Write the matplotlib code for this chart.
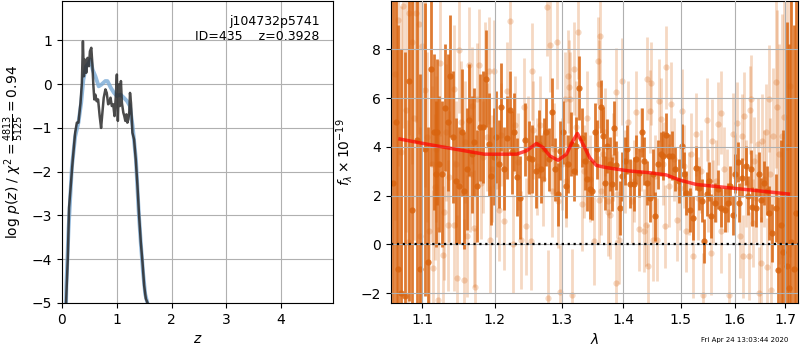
import numpy as np
import matplotlib
matplotlib.use('Agg')
import matplotlib.pyplot as plt
from matplotlib.ticker import NullLocator

# ---- left panel: redshift fit ----
z_chi = [0.060, 0.074, 0.105, 0.129, 0.160, 0.197, 0.240, 0.271, 0.300, 0.338, 0.363,
         0.382, 0.400, 0.419, 0.443, 0.467, 0.492, 0.510, 0.535, 0.553, 0.572, 0.590,
         0.609, 0.633, 0.659, 0.688, 0.714, 0.738, 0.762, 0.793, 0.817, 0.843, 0.867,
         0.886, 0.910, 0.935, 0.959, 0.983, 1.002, 1.020, 1.039, 1.057, 1.076, 1.094,
         1.120, 1.138, 1.157, 1.175, 1.194, 1.212, 1.230, 1.242, 1.260, 1.286, 1.316,
         1.347, 1.378, 1.408, 1.439, 1.470, 1.500, 1.531, 1.563, 1.580]
logp_chi = [-6.0, -5.0, -4.0, -2.82, -2.32, -1.72, -1.11, -0.88, -0.88, -0.43, 0.03,
            0.98, 0.18, 0.56, 0.26, 0.60, 0.41, 0.75, 0.83, 0.49, -0.01, -0.35,
            -0.24, -0.39, -0.35, -0.73, -1.00, -0.65, -0.31, -0.12, -0.20, -0.46, -0.43,
            -0.31, -0.50, -0.46, -0.73, -0.27, 0.22, -0.84, -0.01, -0.50, 0.07, -0.43,
            -0.65, -0.73, -0.84, -0.69, -0.88, -0.80, -0.62, -0.20, -0.43, -1.11, -1.26,
            -1.72, -2.32, -3.01, -3.61, -4.07, -4.60, -4.90, -5.00, -6.0]

z_pz = [0.060, 0.080, 0.120, 0.180, 0.240, 0.300, 0.350, 0.390, 0.440, 0.490, 0.520,
        0.560, 0.610, 0.670, 0.720, 0.790, 0.830, 0.890, 0.950, 1.000, 1.070, 1.130,
        1.190, 1.240, 1.290, 1.350, 1.400, 1.440, 1.480, 1.520, 1.560, 1.580]
logp_pz = [-6.0, -4.6, -3.3, -1.90, -1.20, -0.88, -0.43, 0.10, 0.41, 0.49, 0.56,
           0.33, 0.18, -0.05, -0.01, 0.07, 0.07, -0.08, -0.20, -0.27, -0.24, -0.31,
           -0.39, -0.50, -0.96, -1.72, -2.90, -3.65, -4.30, -4.80, -5.00, -6.0]

# ---- right panel: spectrum ----
dark_lam = [1.0615, 1.0655, 1.0690, 1.0723, 1.0780, 1.0825, 1.0865, 1.0930, 1.0970, 1.1036,
            1.1075, 1.1115, 1.1155, 1.1178, 1.1195, 1.1220, 1.1260, 1.1300, 1.1342, 1.1370,
            1.1410, 1.1460, 1.1490, 1.1530, 1.1560, 1.1600, 1.1630, 1.1680, 1.1710, 1.1740,
            1.1790, 1.1830, 1.1880, 1.1910, 1.1950, 1.1985, 1.2020, 1.2060, 1.2096, 1.2140,
            1.2180, 1.2220, 1.2245, 1.2285, 1.2325, 1.2375, 1.2435, 1.2500, 1.2550, 1.2605,
            1.2650, 1.2690, 1.2728, 1.2767, 1.2807, 1.2845, 1.2895, 1.2947, 1.2970, 1.3020,
            1.3076, 1.3100, 1.3155, 1.3195, 1.3233, 1.3270, 1.3316, 1.3370, 1.3410, 1.3447,
            1.3485, 1.3530, 1.3573, 1.3630, 1.3664, 1.3700, 1.3730, 1.3770, 1.3810, 1.3840,
            1.3885, 1.3940, 1.3980, 1.4020, 1.4070, 1.4120, 1.4180, 1.4220, 1.4265, 1.4315,
            1.4360, 1.4405, 1.4462, 1.4500, 1.4537, 1.4595, 1.4640, 1.4685, 1.4740, 1.4784,
            1.4844, 1.4900, 1.4960, 1.5030, 1.5065, 1.5100, 1.5165, 1.5225, 1.5280, 1.5340,
            1.5380, 1.5430, 1.5480, 1.5515, 1.5550, 1.5620, 1.5680, 1.5740, 1.5810, 1.5870,
            1.5920, 1.5970, 1.6010, 1.6060, 1.6090, 1.6150, 1.6220, 1.6265, 1.6310, 1.6340,
            1.6410, 1.6480, 1.6520, 1.6580, 1.6630, 1.6680, 1.6740, 1.6810, 1.6860, 1.6910,
            1.6960, 1.7030, 1.7086, 1.7130, 1.7180, 1.7220]
dark_flux = [2.5, 5.0, -1.0, -2.0, -2.1, 6.7, 1.4, 4.3, -1.0, 3.9,
             -0.7, 7.2, 4.6, 2.9, 4.6, 3.3, 2.9, 5.6, 5.0, 6.9,
             4.4, 2.6, 2.4, 4.6, 2.2, 3.1, 5.1, 3.7, 4.2, 2.4,
             4.8, 4.8, 6.8, 4.1, 2.8, 3.6, 4.4, 3.3, 5.65, 3.1,
             4.38, 5.51, 3.77, 4.6, 2.76, 1.91, 4.3, 3.56, 3.49, 3.0,
             4.11, 3.08, 3.9, 4.62, 3.49, 5.44, 3.08, 2.05, 3.84, 4.6,
             2.39, 3.29, 4.11, 3.0, 4.04, 6.42, 4.38, 3.42, 2.67, 2.26,
             2.21, 4.59, 3.9, 5.65, 4.45, 2.53, 4.04, 3.3, 2.49, 4.77,
             3.25, 1.5, 2.8, 3.42, 3.9, 2.49, 2.49, 3.49, 2.94, 4.59,
             3.42, 2.53, 1.91, 2.9, 1.15, 3.29, 3.7, 3.63, 4.48, 3.63,
             3.63, 3.08, 2.6, 4.04, 2.9, 2.12, 1.43, 1.08, 3.15, 2.32,
             1.8, 0.15, 2.05, 2.6, 1.15, 1.7, 2.26, 1.5, 1.43, 1.7,
             2.4, 1.2, 2.9, 3.38, 1.7, 2.73, 3.22, 2.0, 3.08, 1.54,
             1.5, 2.87, 1.84, 2.53, 2.2, 1.3, 0.47, 1.5, -1.04, 0.8,
             -0.3, -0.88, -1.77, 0.12, -1.0, 1.3]
dark_err = [10, 10, 10, 10, 10, 9, 10, 9, 8, 6,
            5.5, 4.0, 3.2, 3.0, 3.0, 2.8, 3.0, 2.6, 2.8, 2.5,
            2.7, 2.6, 2.4, 2.6, 2.4, 2.5, 2.3, 2.4, 2.2, 2.3,
            2.2, 2.3, 2.0, 2.1, 2.0, 2.0, 1.9, 1.8, 1.8, 1.7,
            1.7, 1.6, 1.7, 1.6, 1.6, 1.7, 1.5, 1.5, 1.4, 1.5,
            1.4, 1.4, 1.3, 1.4, 1.3, 1.4, 1.3, 1.3, 1.2, 1.3,
            1.3, 1.2, 1.3, 1.2, 1.2, 1.3, 1.2, 1.2, 1.3, 1.2,
            1.2, 1.2, 1.2, 1.1, 1.2, 1.1, 1.1, 1.1, 1.1, 1.1,
            1.0, 1.1, 1.0, 1.0, 1.0, 1.0, 1.1, 1.0, 1.0, 1.0,
            1.0, 0.9, 1.0, 1.0, 1.0, 1.0, 0.9, 1.0, 0.9, 0.9,
            1.0, 0.9, 0.9, 0.9, 0.9, 0.9, 0.9, 0.9, 0.9, 0.9,
            0.9, 0.9, 0.9, 0.8, 0.9, 0.8, 0.8, 0.8, 0.9, 0.8,
            0.8, 0.8, 0.8, 0.8, 0.8, 0.8, 0.8, 0.8, 0.8, 0.8,
            0.8, 0.9, 0.9, 0.9, 1.0, 1.1, 1.2, 1.4, 3.0, 3.5,
            5.0, 10, 10, 10, 10, 10]

light_lam = [1.0640, 1.0690, 1.0717, 1.0752, 1.0790, 1.0818, 1.0830, 1.0860, 1.0885, 1.0917,
             1.0953, 1.0974, 1.0996, 1.1036, 1.1060, 1.1084, 1.1128, 1.1137, 1.1167, 1.1180,
             1.1212, 1.1234, 1.1280, 1.1295, 1.1320, 1.1348, 1.1362, 1.1420, 1.1428, 1.1450,
             1.1474, 1.1496, 1.1529, 1.1565, 1.1580, 1.1601, 1.1633, 1.1650, 1.1670, 1.1702,
             1.1712, 1.1740, 1.1772, 1.1805, 1.1830, 1.1856, 1.1890, 1.1913, 1.1937, 1.1960,
             1.1984, 1.2022, 1.2065, 1.2096, 1.2130, 1.2170, 1.2220, 1.2266, 1.2300, 1.2340,
             1.2390, 1.2425, 1.2455, 1.2480, 1.2525, 1.2540, 1.2555, 1.2620, 1.2670, 1.2710,
             1.2780, 1.2795, 1.2820, 1.2845, 1.2880, 1.2935, 1.2950, 1.2970, 1.3010, 1.3050,
             1.3065, 1.3100, 1.3115, 1.3128, 1.3165, 1.3190, 1.3220, 1.3262, 1.3316, 1.3360,
             1.3400, 1.3450, 1.3510, 1.3575, 1.3590, 1.3600, 1.3609, 1.3636, 1.3660, 1.3700,
             1.3745, 1.3750, 1.3773, 1.3820, 1.3873, 1.3880, 1.3890, 1.3930, 1.3970, 1.4020,
             1.4080, 1.4140, 1.4180, 1.4222, 1.4265, 1.4300, 1.4360, 1.4390, 1.4405, 1.4415,
             1.4461, 1.4478, 1.4506, 1.4550, 1.4580, 1.4611, 1.4650, 1.4680, 1.4720, 1.4740,
             1.4780, 1.4830, 1.4880, 1.4940, 1.4980, 1.5017, 1.5050, 1.5095, 1.5140, 1.5180,
             1.5220, 1.5280, 1.5320, 1.5360, 1.5400, 1.5470, 1.5500, 1.5550, 1.5580, 1.5590,
             1.5640, 1.5680, 1.5740, 1.5750, 1.5800, 1.5850, 1.5900, 1.5960, 1.6000, 1.6040,
             1.6110, 1.6150, 1.6170, 1.6190, 1.6220, 1.6270, 1.6290, 1.6320, 1.6350, 1.6385,
             1.6420, 1.6450, 1.6480, 1.6510, 1.6540, 1.6570, 1.6610, 1.6640, 1.6680, 1.6700,
             1.6715, 1.6760, 1.6810, 1.6840, 1.6880, 1.6940, 1.6980, 1.7030, 1.7100]
light_flux = [7.0, 9.2, 3.77, 9.77, 5.5, 0.12, 9.47, 8.3, 5.2, 9.5,
              9.03, 0.33, 8.12, 6.34, 4.4, 0.54, 3.29, -0.98, 2.35, 3.9,
              -2.28, 7.44, -0.42, 1.33, 4.6, 0.78, 2.78, 0.78, 6.38, 3.3,
              -1.39, 7.99, 5.0, -1.46, 4.2, 0.33, 7.34, 2.9, 5.69, 0.67,
              -1.73, 5.97, 7.34, 2.53, 3.6, 6.93, 4.4, 7.13, 0.19, 3.1,
              7.09, 2.39, 1.43, 4.5, 0.95, 6.28, 9.17, 0.01, 4.9, 3.4,
              0.19, 5.65, 0.74, 4.1, 0.15, 7.09, 4.69, 3.2, 4.9, 2.67,
              9.74, -2.21, 8.16, 2.21, 3.9, 8.28, 1.77, -1.94, 3.3, 5.97,
              2.6, 6.89, 6.47, 5.97, -2.07, 7.2, 4.8, 8.69, 1.64, 3.0,
              5.2, 2.7, 0.15, 7.52, 1.84, 6.59, 8.54, 2.19, 3.7, 4.6,
              1.8, 1.33, 1.22, 3.6, 6.24, -1.6, 2.05, 0.19, 6.68, 3.0,
              5.0, 1.77, 2.6, 5.41, 0.63, 3.9, 0.56, 0.81, 6.79, -0.87,
              5.46, 6.61, 0.19, 2.8, 0.19, 5.9, 5.14, 3.3, 0.74, 7.27,
              2.4, 5.76, 3.5, 1.02, 2.3, 5.48, 3.2, 0.56, 2.1, 3.7,
              -0.49, 4.52, 1.9, 3.0, -2.07, 5.11, 2.2, -0.36, 4.25, 1.77,
              2.6, 4.94, 0.54, 5.39, 3.1, 2.2, -2.07, 4.52, 2.8, 4.96,
              0.33, 4.45, -0.49, 5.28, 2.5, -0.49, 5.51, 5.97, 0.88, 3.42,
              1.9, 4.11, -2.01, -0.77, 4.25, 2.7, 4.59, -0.91, 5.97, 2.87,
              -1.87, 4.45, 6.65, 5.62, 3.7, 4.45, 5.21, 4.0, 6.5]
light_err = [6, 6, 6, 5, 5, 5, 5, 5, 5, 4.5,
             4.5, 4.5, 4.0, 4.0, 3.5, 3.5, 3.2, 3.2, 3.0, 3.0,
             3.0, 3.0, 2.8, 2.8, 2.8, 2.7, 2.7, 2.7, 2.6, 2.6,
             2.6, 2.6, 2.5, 2.5, 2.5, 2.5, 2.4, 2.4, 2.4, 2.4,
             2.4, 2.3, 2.3, 2.3, 2.3, 2.2, 2.2, 2.2, 2.2, 2.2,
             2.1, 2.1, 2.1, 2.1, 2.0, 2.0, 2.0, 2.0, 2.0, 2.0,
             2.0, 2.0, 2.0, 2.0, 2.0, 2.0, 2.0, 2.0, 2.0, 1.9,
             2.0, 2.0, 1.9, 1.9, 1.9, 1.9, 1.9, 1.9, 1.9, 1.9,
             1.9, 1.9, 1.9, 1.9, 1.9, 1.9, 1.9, 1.9, 1.9, 1.9,
             1.9, 1.8, 1.8, 1.8, 1.8, 1.8, 1.8, 1.8, 1.8, 1.8,
             1.8, 1.8, 1.8, 1.8, 1.8, 1.8, 1.8, 1.8, 1.8, 1.7,
             1.7, 1.7, 1.7, 1.7, 1.7, 1.7, 1.7, 1.7, 1.7, 1.7,
             1.7, 1.7, 1.7, 1.7, 1.7, 1.7, 1.7, 1.7, 1.7, 1.7,
             1.7, 1.7, 1.7, 1.7, 1.7, 1.7, 1.7, 1.7, 1.7, 1.7,
             1.7, 1.7, 1.7, 1.7, 1.7, 1.7, 1.7, 1.7, 1.7, 1.7,
             1.7, 1.7, 1.7, 1.7, 1.7, 1.7, 1.7, 1.7, 1.7, 1.7,
             1.7, 1.7, 1.7, 1.8, 1.8, 1.8, 1.8, 1.8, 1.8, 1.8,
             1.8, 1.9, 1.9, 1.9, 1.9, 2.0, 2.0, 2.0, 2.2, 2.3,
             2.5, 2.8, 3.5, 4.0, 4.5, 5.0, 6.0, 6.0, 7.0]

model_lam = [1.071, 1.101, 1.132, 1.163, 1.185, 1.2317, 1.2466, 1.2615, 1.2716, 1.2818,
             1.2946, 1.3077, 1.318, 1.325, 1.3339, 1.3446, 1.3555, 1.3718, 1.4106, 1.4449,
             1.474, 1.4978, 1.528, 1.5587, 1.6223, 1.7065]
model_flux = [4.32, 4.14, 3.97, 3.81, 3.70, 3.70, 3.84, 4.14, 3.97, 3.63,
              3.45, 3.70, 4.25, 4.55, 4.11, 3.56, 3.24, 3.15, 3.01, 2.94,
              2.85, 2.64, 2.46, 2.39, 2.25, 2.07]

lam_ticks = [1.1, 1.2, 1.3, 1.4, 1.5, 1.6, 1.7]

orange = '#d9640f'

fig = plt.figure(figsize=(8, 3.5), dpi=100)

# left: log p(z)
ax1 = fig.add_axes([0.0775, 0.1343, 0.3388, 0.8629])
ax1.plot(z_pz, logp_pz, color='#7aaad6', lw=2.8, alpha=0.8)
ax1.plot(z_chi, logp_chi, color='#2b2b2b', lw=1.8, alpha=0.85)
ax1.set_xlim(0, 4.95)
ax1.set_ylim(-5.0, 1.9)
ax1.set_xticks([0, 1, 2, 3, 4])
ax1.set_yticks([-5, -4, -3, -2, -1, 0, 1])
ax1.grid(True)
ax1.set_xlabel(r'$z$')
ax1.set_ylabel(r'log $p(z)$ / $\chi^2=\frac{4813}{5125}=0.94$')
ax1.text(0.95, 0.955, 'j104732p5741\nID=435    z=0.3928', ha='right', va='top',
         transform=ax1.transAxes, fontsize=9)

# right: spectrum
ax2 = fig.add_axes([0.4888, 0.1343, 0.5088, 0.8629])
ax2.errorbar(light_lam, light_flux, yerr=light_err, marker='o', ms=4.5,
             linestyle='none', color=orange, alpha=0.25, elinewidth=2, mew=0)
ax2.errorbar(dark_lam, dark_flux, yerr=dark_err, marker='o', ms=4.5,
             linestyle='none', color=orange, alpha=0.85, elinewidth=2, mew=0)
ax2.plot(model_lam, model_flux, color='red', lw=2.5, alpha=0.7, zorder=4)
ax2.axhline(0, color='k', ls=':', lw=1.6, zorder=5)
ax2.set_xscale('log')
ax2.set_xlim(1.0595, 1.7266)
ax2.set_ylim(-2.4, 9.98)
ax2.set_xticks(lam_ticks)
ax2.set_xticklabels([str(t) for t in lam_ticks])
ax2.xaxis.set_minor_locator(NullLocator())
ax2.set_yticks([-2, 0, 2, 4, 6, 8])
ax2.set_axisbelow(False)
ax2.grid(True)
ax2.set_xlabel(r'$\lambda$')
ax2.set_ylabel(r'$f_\lambda\times10^{-19}$')

fig.text(0.985, 0.02, 'Fri Apr 24 13:03:44 2020', ha='right', va='bottom', fontsize=5)

fig.savefig('out.png', dpi=100)
